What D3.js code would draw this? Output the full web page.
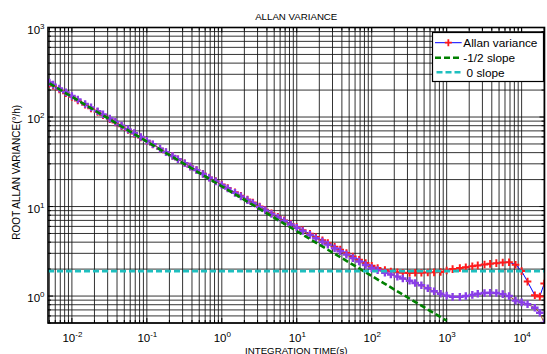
<!DOCTYPE html>
<html>
<head>
<meta charset="utf-8">
<script src="https://cdn.jsdelivr.net/npm/d3@7/dist/d3.min.js"></script>
<style>
  html, body { margin: 0; padding: 0; background: #fff; }
  svg { display: block; font-family: "Liberation Sans", Arial, sans-serif; }
</style>
</head>
<body>
<svg id="chart" width="547" height="354"></svg>
<script>
// Integration times (s)
const tau = [
  0.005, 0.0056, 0.0068, 0.0083,
  0.01, 0.012, 0.015, 0.018, 0.022, 0.026, 0.032, 0.038, 0.046, 0.056, 0.068, 0.083,
  0.1, 0.12, 0.15, 0.18, 0.22, 0.26, 0.32, 0.38, 0.46, 0.56, 0.68, 0.83,
  1, 1.2, 1.5, 1.8, 2.2, 2.6, 3.2, 3.8, 4.6, 5.6, 6.8, 8.3,
  10, 12, 15, 18, 22, 26, 32, 38, 46, 56, 68, 83,
  100, 120, 150, 180, 220, 260, 320, 380, 460, 560, 680, 830,
  1000, 1200, 1500, 1800, 2200, 2600, 3200, 3800, 4600, 5600, 6800, 8300,
  10000, 12000, 15000, 17500, 20000
];

// Root Allan variance, gyro output (deg/h)
const allanDev = [
  236, 224, 203, 184,
  168, 153, 137, 125, 114, 105, 94.5, 86.8, 79.0, 71.8, 65.3, 59.1,
  54.0, 49.4, 44.2, 40.4, 36.7, 33.7, 30.5, 28.0, 25.6, 23.2, 21.1, 19.2,
  17.6, 16.1, 14.4, 13.2, 12.0, 11.1, 10.0, 9.2, 8.4, 7.7, 7.0, 6.4,
  5.9, 5.45, 4.95, 4.57, 4.19, 3.90, 3.55, 3.30, 3.02, 2.77, 2.54, 2.34,
  2.18, 2.06, 1.95, 1.88, 1.84, 1.82, 1.81, 1.82, 1.82, 1.83, 1.84, 1.86,
  1.93, 2.0, 2.06, 2.1, 2.15, 2.2, 2.25, 2.29, 2.33, 2.37, 2.39, 2.24,
  1.9, 1.45, 1.02, 0.99, 1.38
];

// Root Allan variance, second run (unlabelled trace)
const secondDev = [
  243, 230, 208, 189,
  172, 157, 140, 128, 116, 107, 96.1, 88.2, 80.2, 72.7, 66.0, 59.7,
  54.4, 49.7, 44.4, 40.5, 36.7, 33.7, 30.4, 27.9, 25.5, 23.1, 21.0, 19.1,
  17.4, 15.9, 14.2, 13.0, 11.8, 10.9, 9.85, 9.05, 8.25, 7.55, 6.9, 6.3,
  5.8, 5.33, 4.82, 4.43, 4.05, 3.75, 3.42, 3.17, 2.90, 2.65, 2.43, 2.22,
  2.05, 1.95, 1.82, 1.74, 1.65, 1.57, 1.48, 1.40, 1.32, 1.22, 1.13, 1.06,
  1.01, 0.98, 0.98, 1.0, 1.03, 1.06, 1.08, 1.09, 1.08, 1.05, 1.0, 0.89,
  0.85, 0.81, 0.74, 0.65, 0.5
];

// Reference lines
const slopeTau = [0.005, 1000];
const slopeDev = [238, 0.53];
const flatDev = 1.9;

const xTickValues = [1e-2, 1e-1, 1e0, 1e1, 1e2, 1e3, 1e4];
const yTickValues = [1e0, 1e1, 1e2, 1e3];

const legendLabels = ["Allan variance", "-1/2 slope", " 0 slope"];

const W = 547, H = 354;
const pL = 48, pR = 544.5, pT = 27.5, pB = 323;

const svg = d3.select("#chart");
svg.append("rect").attr("width", W).attr("height", H).attr("fill", "#fff");

const x = d3.scaleLog().domain([0.0048, 20200]).range([pL, pR]);
const y = d3.scaleLog().domain([0.5, 1000]).range([pB, pT]);

svg.append("defs").append("clipPath").attr("id", "plotclip")
  .append("rect").attr("x", pL).attr("y", pT)
  .attr("width", pR - pL).attr("height", pB - pT);

// Minor/major grid values
function logValues(lo, hi) {
  const out = [];
  for (let e = Math.floor(Math.log10(lo)); e <= Math.ceil(Math.log10(hi)); e++) {
    for (let k = 1; k <= 9; k++) {
      const v = k * Math.pow(10, e);
      if (v >= lo && v <= hi) out.push({ v, major: k === 1 });
    }
  }
  return out;
}
const xGrid = logValues(x.domain()[0], x.domain()[1]);
const yGrid = logValues(y.domain()[0], y.domain()[1]);

const grid = svg.append("g").attr("stroke", "#111").attr("stroke-opacity", 0.85).attr("stroke-width", 1);
grid.selectAll("line.vx").data(xGrid).join("line")
  .attr("x1", d => x(d.v)).attr("x2", d => x(d.v))
  .attr("y1", pT).attr("y2", pB);
grid.selectAll("line.hy").data(yGrid).join("line")
  .attr("y1", d => y(d.v)).attr("y2", d => y(d.v))
  .attr("x1", pL).attr("x2", pR);

// Tick marks on all four sides, pointing inward
const ticks = svg.append("g").attr("stroke", "#000").attr("stroke-width", 1);
xGrid.forEach(d => {
  const L = d.major ? 5 : 3;
  ticks.append("line").attr("x1", x(d.v)).attr("x2", x(d.v)).attr("y1", pB).attr("y2", pB - L);
  ticks.append("line").attr("x1", x(d.v)).attr("x2", x(d.v)).attr("y1", pT).attr("y2", pT + L);
});
yGrid.forEach(d => {
  const L = d.major ? 5 : 3;
  ticks.append("line").attr("y1", y(d.v)).attr("y2", y(d.v)).attr("x1", pL).attr("x2", pL + L);
  ticks.append("line").attr("y1", y(d.v)).attr("y2", y(d.v)).attr("x1", pR).attr("x2", pR - L);
});

const plot = svg.append("g").attr("clip-path", "url(#plotclip)");
const line = d3.line().x(d => x(d[0])).y(d => y(d[1]));

function plusPath(cx, cy, r) {
  return `M${cx - r},${cy}H${cx + r}M${cx},${cy - r}V${cy + r}`;
}

// Allan variance: blue line with red markers
const allanPts = tau.map((t, i) => [t, allanDev[i]]);
plot.append("path").attr("d", line(allanPts)).attr("fill", "none")
  .attr("stroke", "#0000ff").attr("stroke-width", 1);
plot.append("path")
  .attr("d", allanPts.map(p => plusPath(x(p[0]), y(p[1]), 3.8)).join(""))
  .attr("stroke", "#ff1a1a").attr("stroke-width", 2).attr("fill", "none");

// Second trace: brown line with purple markers
const secondPts = tau.map((t, i) => [t, secondDev[i]]);
plot.append("path").attr("d", line(secondPts)).attr("fill", "none")
  .attr("stroke", "#a0522d").attr("stroke-width", 1);
plot.append("path")
  .attr("d", secondPts.map(p => plusPath(x(p[0]), y(p[1]), 3.8)).join(""))
  .attr("stroke", "#8a3ee8").attr("stroke-width", 2.4).attr("fill", "none");

// -1/2 slope
plot.append("path").attr("d", line(slopeTau.map((t, i) => [t, slopeDev[i]])))
  .attr("fill", "none").attr("stroke", "#008000").attr("stroke-width", 2.6)
  .attr("stroke-dasharray", "6,3");

// 0 slope
plot.append("path").attr("d", line([[x.domain()[0], flatDev], [x.domain()[1], flatDev]]))
  .attr("fill", "none").attr("stroke", "#1fbfbf").attr("stroke-width", 2.6)
  .attr("stroke-dasharray", "6,3");

// Axes box
svg.append("rect").attr("x", pL).attr("y", pT)
  .attr("width", pR - pL).attr("height", pB - pT)
  .attr("fill", "none").attr("stroke", "#000").attr("stroke-width", 1.6);

// Tick labels as 10^n
const expOf = v => Math.round(Math.log10(v));
const xl = svg.append("g").attr("font-size", 11.5).attr("fill", "#000");
xTickValues.forEach(v => {
  const t = xl.append("text").attr("x", x(v) + 0.5).attr("y", 342).attr("text-anchor", "middle");
  t.append("tspan").text("10");
  t.append("tspan").attr("dy", -5).attr("font-size", 8).text(String(expOf(v)));
});
const yl = svg.append("g").attr("font-size", 11.5).attr("fill", "#000");
yTickValues.forEach(v => {
  const t = yl.append("text").attr("x", 44.5).attr("y", y(v) + 6).attr("text-anchor", "end");
  t.append("tspan").text("10");
  t.append("tspan").attr("dy", -5).attr("font-size", 8).text(String(expOf(v)));
});

// Titles
svg.append("text").attr("x", (pL + pR) / 2).attr("y", 20)
  .attr("text-anchor", "middle").attr("font-size", 9.7).text("ALLAN VARIANCE");
svg.append("text").attr("x", (pL + pR) / 2).attr("y", 353.5)
  .attr("text-anchor", "middle").attr("font-size", 9.7).text("INTEGRATION TIME(s)");
svg.append("text").attr("transform", `translate(19.5,${(pT + pB) / 2 - 3}) rotate(-90)`)
  .attr("text-anchor", "middle").attr("font-size", 10).text("ROOT ALLAN VARIANCE(°/h)");

// Legend
const lg = svg.append("g");
lg.append("rect").attr("x", 432.5).attr("y", 32.5).attr("width", 111).attr("height", 49)
  .attr("fill", "#fff").attr("stroke", "#000").attr("stroke-width", 1.2);
const rows = [42.7, 57.7, 72.3];
const lx0 = 435, lx1 = 461.7;
lg.append("line").attr("x1", lx0).attr("x2", lx1).attr("y1", rows[0]).attr("y2", rows[0])
  .attr("stroke", "#0000ff").attr("stroke-width", 1);
lg.append("path").attr("d", plusPath((lx0 + lx1) / 2, rows[0], 3.5))
  .attr("stroke", "#ff1a1a").attr("stroke-width", 1.8);
lg.append("line").attr("x1", lx0).attr("x2", lx1).attr("y1", rows[1]).attr("y2", rows[1])
  .attr("stroke", "#008000").attr("stroke-width", 2.6).attr("stroke-dasharray", "6,3");
lg.append("line").attr("x1", lx0 + 1.5).attr("x2", lx1).attr("y1", rows[2]).attr("y2", rows[2])
  .attr("stroke", "#1fbfbf").attr("stroke-width", 2.6).attr("stroke-dasharray", "6,3");
legendLabels.forEach((s, i) => {
  lg.append("text").attr("x", 463.3).attr("y", rows[i] + 4.2)
    .attr("font-size", 11.8).style("white-space", "pre").text(s);
});
</script>
</body>
</html>
